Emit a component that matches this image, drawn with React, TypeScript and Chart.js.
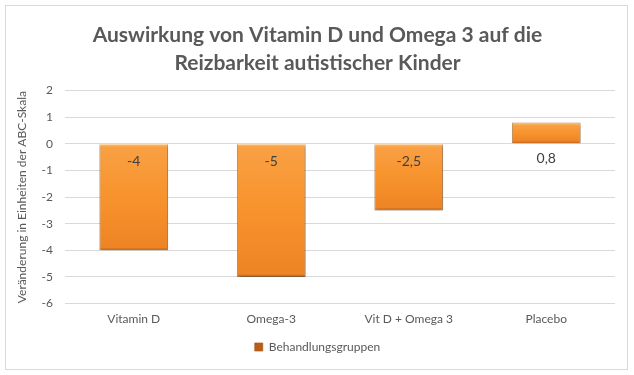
import React, { useEffect, useRef } from "react";
import { Chart, registerables } from "chart.js";

Chart.register(...registerables);

const categories = ["Vitamin D", "Omega-3", "Vit D + Omega 3", "Placebo"];
const values = [-4, -5, -2.5, 0.8];
const valueLabels = ["-4", "-5", "-2,5", "0,8"];
const seriesName = "Behandlungsgruppen";
const titleLines = ["Auswirkung von Vitamin D und Omega 3 auf die", "Reizbarkeit autistischer Kinder"];
const yTitle = "Veränderung in Einheiten der ABC-Skala";
const yMin = -6;
const yMax = 2;

const FONT = "Lato, 'Open Sans', sans-serif";
const TEXT = "#595959";

export default function App() {
  const ref = useRef<HTMLCanvasElement | null>(null);

  useEffect(() => {
    document.body.style.margin = "0";
    const canvas = ref.current;
    if (!canvas) return;

    const shadowPlugin = {
      id: "barShadow",
      beforeDatasetsDraw(chart: any) {
        const c = chart.ctx;
        c.save();
        c.shadowColor = "rgba(0,0,0,0.35)";
        c.shadowBlur = 3;
        c.shadowOffsetX = 1;
        c.shadowOffsetY = 2;
      },
      afterDatasetsDraw(chart: any) {
        chart.ctx.restore();
      },
    };

    const labelPlugin = {
      id: "valueLabels",
      afterDraw(chart: any) {
        const c = chart.ctx;
        const meta = chart.getDatasetMeta(0);
        const y0 = chart.scales.y.getPixelForValue(0);
        c.save();
        c.font = `14px ${FONT}`;
        c.fillStyle = "#404040";
        c.textAlign = "center";
        c.textBaseline = "middle";
        meta.data.forEach((bar: any, i: number) => {
          const off = values[i] < 0 ? 18 : 15;
          c.fillText(valueLabels[i], bar.x, y0 + off);
        });
        c.restore();
      },
    };

    const chart = new Chart(canvas, {
      type: "bar",
      data: {
        labels: categories,
        datasets: [
          {
            label: seriesName,
            data: values,
            backgroundColor: (ctx: any) => {
              const chartObj = ctx.chart;
              const ys = chartObj.scales && chartObj.scales.y;
              if (!ys || ctx.parsed == null || ctx.type !== "data") return "#F7932F";
              const v = ctx.parsed.y;
              const a = ys.getPixelForValue(Math.max(v, 0));
              const b = ys.getPixelForValue(Math.min(v, 0));
              if (!isFinite(a) || !isFinite(b) || a === b) return "#F7932F";
              const h = Math.abs(b - a);
              const e = Math.min(0.3, 3 / h);
              const g = chartObj.ctx.createLinearGradient(0, a, 0, b);
              g.addColorStop(0, "#FCC77C");
              g.addColorStop(e, "#F9A044");
              g.addColorStop(0.5, "#F7932C");
              g.addColorStop(1 - e, "#EE8425");
              g.addColorStop(1, "#B85F17");
              return g;
            },
            borderColor: "rgba(170,90,20,0.7)",
            borderWidth: 1,
            barPercentage: 0.5,
            categoryPercentage: 1,
          },
        ],
      },
      options: {
        animation: false,
        responsive: false,
        maintainAspectRatio: false,
        layout: { padding: { left: 15, right: 14, top: 6, bottom: 12 } },
        plugins: {
          title: {
            display: true,
            text: titleLines,
            color: TEXT,
            font: { family: FONT, size: 21, weight: "bold", lineHeight: 1.3 },
            padding: { top: 16, bottom: 14 },
          },
          legend: {
            display: true,
            position: "bottom",
            labels: {
              color: TEXT,
              font: { family: FONT, size: 12 },
              boxWidth: 8,
              boxHeight: 8,
              padding: 7,
            },
          },
          tooltip: { enabled: false },
        },
        scales: {
          x: {
            grid: { display: false, drawTicks: false },
            border: { display: false },
            ticks: { color: TEXT, font: { family: FONT, size: 12 }, padding: 8 },
          },
          y: {
            min: yMin,
            max: yMax,
            ticks: { stepSize: 1, color: TEXT, font: { family: FONT, size: 12 }, padding: 12 },
            grid: { color: "#D9D9D9", drawTicks: false },
            border: { display: false },
            title: {
              display: true,
              text: yTitle,
              color: TEXT,
              font: { family: FONT, size: 12 },
              padding: { top: 0, bottom: 0 },
            },
            afterFit: (s: any) => {
              s.width = 50;
            },
          },
          y2: {
            position: "right",
            display: true,
            grid: { display: false, drawTicks: false },
            border: { display: false },
            ticks: { display: false },
            afterFit: (s: any) => {
              s.width = 5;
            },
          },
        },
      },
      plugins: [shadowPlugin, labelPlugin],
    } as any);

    return () => chart.destroy();
  }, []);

  return (
    <div style={{ position: "relative", width: 634, height: 375, background: "#fff" }}>
      <div
        style={{
          position: "absolute",
          left: 5,
          top: 5,
          width: 621,
          height: 363,
          border: "1px solid #D9D9D9",
          pointerEvents: "none",
        }}
      />
      <canvas ref={ref} width={634} height={375} style={{ display: "block" }} />
    </div>
  );
}
